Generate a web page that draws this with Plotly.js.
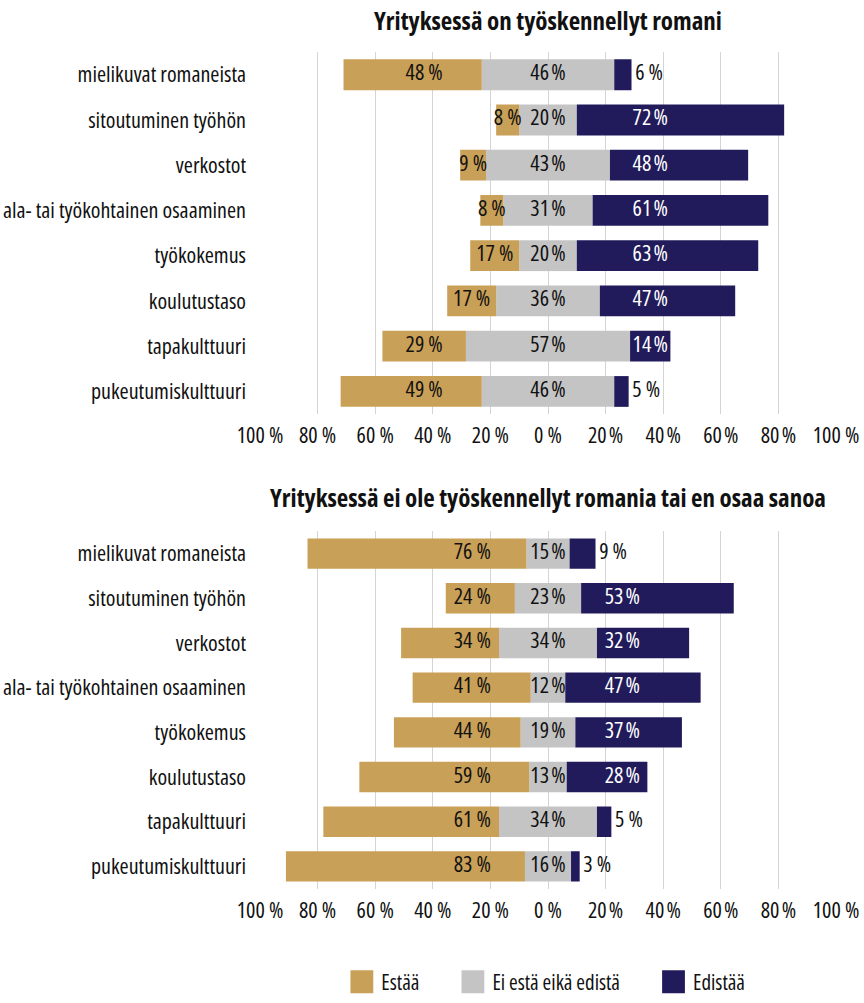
<!DOCTYPE html>
<html>
<head>
<meta charset="utf-8">
<script src="https://cdn.plot.ly/plotly-3.0.1.min.js"></script>
<style>
  html, body { margin: 0; padding: 0; background: #ffffff; }
  #chart { width: 864px; height: 1003px; }
  text { font-stretch: 75%; }
  .legendpoints path { transform: translate(48.5px, 0px) scale(1.9); }
</style>
</head>
<body>
<div id="chart"></div>
<script>
// ---------- data ----------
const categories = [
  'mielikuvat romaneista',
  'sitoutuminen työhön',
  'verkostot',
  'ala- tai työkohtainen osaaminen',
  'työkokemus',
  'koulutustaso',
  'tapakulttuuri',
  'pukeutumiskulttuuri'
];
const seriesNames = ['Estää', 'Ei estä eikä edistä', 'Edistää'];

const topTitle = 'Yrityksessä on työskennellyt romani';
const topEstaa    = [48, 8, 9, 8, 17, 17, 29, 49];
const topNeutral  = [46, 20, 43, 31, 20, 36, 57, 46];
const topEdistaa  = [6, 72, 48, 61, 63, 47, 14, 5];

const bottomTitle = 'Yrityksessä ei ole työskennellyt romania tai en osaa sanoa';
const bottomEstaa   = [76, 24, 34, 41, 44, 59, 61, 83];
const bottomNeutral = [15, 23, 34, 12, 19, 13, 34, 16];
const bottomEdistaa = [9, 53, 32, 47, 37, 28, 5, 3];

const tickVals = [-100, -80, -60, -40, -20, 0, 20, 40, 60, 80, 100];
const tickText = ['100 %', '80 %', '60 %', '40 %', '20 %', '0 %', '20\u200A%', '40\u200A%', '60\u200A%', '80\u200A%', '100 %'];

// ---------- style ----------
const FONT = '"Open Sans", "DejaVu Sans Condensed", sans-serif';
const FS = 22;
const C_EST = '#C9A057';
const C_NEU = '#C4C4C4';
const C_EDI = '#211B5B';
const TXT = '#111111';
const BARW = 0.68;

// label placement rules per panel (in axis units)
const panels = [
  { est: topEstaa, neu: topNeutral, edi: topEdistaa, xa: 'x', ya: 'y',
    estLabel: c => Math.max(c, -43), ediLabel: 35.5 },
  { est: bottomEstaa, neu: bottomNeutral, edi: bottomEdistaa, xa: 'x2', ya: 'y2',
    estLabel: c => -26.3, ediLabel: 25.8 }
];

const pct = v => v + ' %';
const pctThin = v => v + '\u200A%';

const traces = [];
panels.forEach((p, k) => {
  const first = k === 0;
  const neuL = p.neu.map(v => -v / 2);
  const neuR = p.neu.map(v => v / 2);
  const estX = p.est.map(v => -v);
  const common = { type: 'bar', orientation: 'h', y: categories, xaxis: p.xa, yaxis: p.ya,
                   width: BARW, hoverinfo: 'skip', textposition: 'none' };
  traces.push(Object.assign({}, common, { name: seriesNames[1], x: neuL,
    marker: { color: C_NEU, line: { width: 0 } }, legendgroup: 'n', showlegend: first, legendrank: 2 }));
  traces.push(Object.assign({}, common, { name: seriesNames[0], x: estX,
    marker: { color: C_EST, line: { width: 0 } }, legendgroup: 'e', showlegend: first, legendrank: 1 }));
  traces.push(Object.assign({}, common, { name: seriesNames[1], x: neuR,
    marker: { color: C_NEU, line: { width: 0 } }, legendgroup: 'n', showlegend: false }));
  traces.push(Object.assign({}, common, { name: seriesNames[2], x: p.edi,
    marker: { color: C_EDI, line: { width: 0 } }, legendgroup: 'd', showlegend: first, legendrank: 3 }));

  // labels
  const estCenters = p.est.map((v, i) => -(p.neu[i] / 2) - v / 2);
  traces.push({
    type: 'scatter', mode: 'text', xaxis: p.xa, yaxis: p.ya, y: categories,
    x: estCenters.map(c => p.estLabel(c)),
    text: p.est.map(pct), textposition: 'middle center',
    textfont: { family: FONT, size: FS, color: TXT },
    showlegend: false, hoverinfo: 'skip', cliponaxis: false
  });
  traces.push({
    type: 'scatter', mode: 'text', xaxis: p.xa, yaxis: p.ya, y: categories,
    x: p.neu.map((v, i) => (neuL[i] + neuR[i]) / 2),
    text: p.neu.map(pctThin), textposition: 'middle center',
    textfont: { family: FONT, size: FS, color: TXT },
    showlegend: false, hoverinfo: 'skip', cliponaxis: false
  });
  const small = p.edi.map(v => v < 10);
  traces.push({
    type: 'scatter', mode: 'text', xaxis: p.xa, yaxis: p.ya, y: categories,
    x: p.edi.map((v, i) => small[i] ? neuR[i] + v : p.ediLabel),
    text: p.edi.map((v, i) => small[i] ? '\u2009' + pct(v) : pctThin(v)),
    textposition: small.map(s => s ? 'middle right' : 'middle center'),
    textfont: { family: FONT, size: FS, color: small.map(s => s ? TXT : '#FFFFFF') },
    showlegend: false, hoverinfo: 'skip', cliponaxis: false
  });
});

const H = 1003;
const xaxisBase = {
  range: [-100, 100], tickvals: tickVals, ticktext: tickText,
  showgrid: true, gridcolor: '#D4D4D4', gridwidth: 1, zeroline: false, showline: false,
  ticks: '', ticklabelstandoff: 6, tickfont: { family: FONT, size: FS, color: TXT },
  fixedrange: true
};
const yaxisBase = {
  type: 'category', categoryorder: 'array', categoryarray: categories,
  range: [categories.length - 0.5, -0.5], showgrid: false, zeroline: false, showline: false,
  ticks: '', ticklabelstandoff: 13, tickfont: { family: FONT, size: FS, color: TXT },
  fixedrange: true
};

const layout = {
  width: 864, height: H,
  margin: { l: 260, r: 28, t: 0, b: 0 },
  paper_bgcolor: '#ffffff', plot_bgcolor: '#ffffff',
  barmode: 'relative',
  font: { family: FONT, color: TXT },
  xaxis: Object.assign({}, xaxisBase, { anchor: 'y' }),
  yaxis: Object.assign({}, yaxisBase, { domain: [1 - 417 / H, 1 - 52.5 / H], anchor: 'x' }),
  xaxis2: Object.assign({}, xaxisBase, { anchor: 'y2' }),
  yaxis2: Object.assign({}, yaxisBase, { domain: [1 - 895 / H, 1 - 535 / H], anchor: 'x2' }),
  annotations: [
    { text: '<b>' + topTitle + '</b>', xref: 'paper', yref: 'paper', x: 0.5, y: 1 - 20 / H,
      xanchor: 'center', yanchor: 'middle', showarrow: false,
      font: { family: FONT, size: 25, color: TXT } },
    { text: '<b>' + bottomTitle + '</b>', xref: 'paper', yref: 'paper', x: 0.5, y: 1 - 500 / H,
      xanchor: 'center', yanchor: 'middle', showarrow: false,
      font: { family: FONT, size: 25, color: TXT } }
  ],
  showlegend: true,
  legend: { orientation: 'h', x: 0.472, xanchor: 'center', y: 1 - 989 / H, yanchor: 'middle',
            itemwidth: 58,
            font: { family: FONT, size: 21, color: TXT }, traceorder: 'normal',
            itemclick: false, itemdoubleclick: false }
};

Plotly.newPlot('chart', traces, layout, { displayModeBar: false, staticPlot: true });
</script>
</body>
</html>
